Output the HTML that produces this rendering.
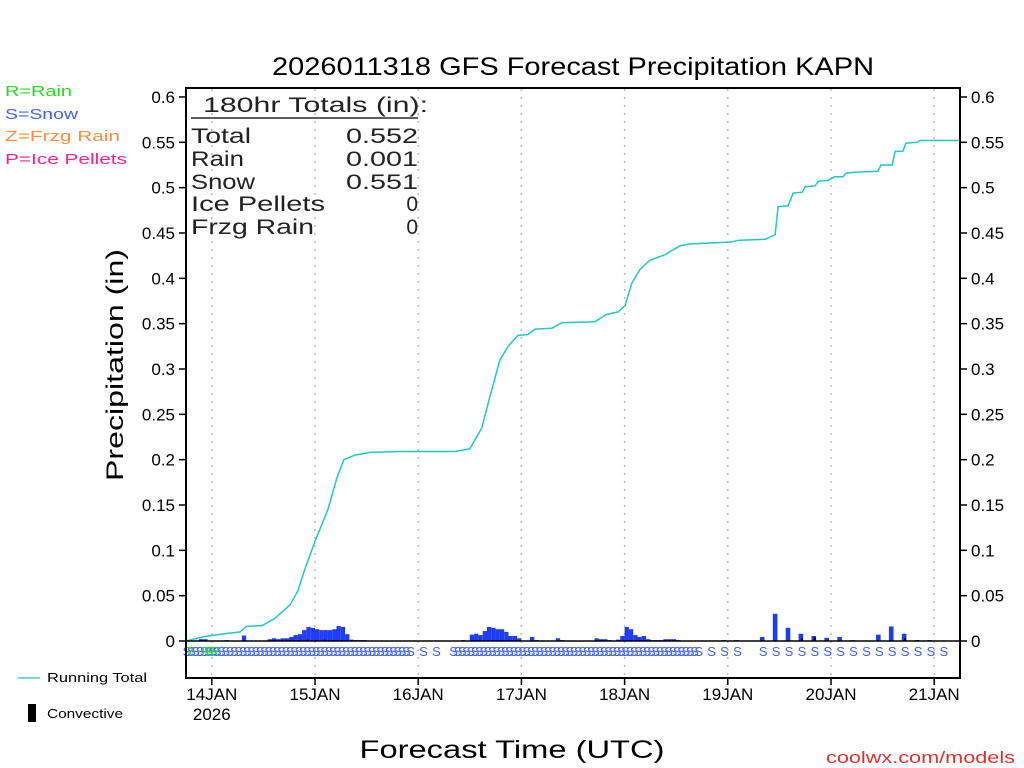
<!DOCTYPE html>
<html><head><meta charset="utf-8"><style>
html,body{margin:0;padding:0;background:#fff;}
svg{display:block;font-family:"Liberation Sans",sans-serif;}
</style></head><body>
<svg id="chart" width="1024" height="768" viewBox="0 0 1024 768">
<text x="573" y="75" font-size="25" text-anchor="middle" textLength="602" lengthAdjust="spacingAndGlyphs" fill="#000">2026011318 GFS Forecast Precipitation KAPN</text>
<g font-size="15">
<text x="5" y="96" fill="#22dd22" textLength="67" lengthAdjust="spacingAndGlyphs">R=Rain</text>
<text x="5" y="119" fill="#4060ff" textLength="73" lengthAdjust="spacingAndGlyphs">S=Snow</text>
<text x="5" y="141" fill="#ff8c40" textLength="115" lengthAdjust="spacingAndGlyphs">Z=Frzg Rain</text>
<text x="5" y="164" fill="#ff2090" textLength="122" lengthAdjust="spacingAndGlyphs">P=Ice Pellets</text>
</g>
<g id="grid"></g>
<g id="bars"></g>
<g id="marks"></g>
<path id="line" fill="none" stroke="#20c8c8" stroke-width="1.5"/>
<line x1="186" y1="641" x2="960" y2="641" stroke="#000" stroke-width="1.5"/>
<rect x="186" y="88" width="774" height="590" fill="none" stroke="#000" stroke-width="2"/>
<g id="axes"></g>
<g font-size="21" fill="#222">
<text x="203" y="112" textLength="225" lengthAdjust="spacingAndGlyphs">180hr Totals (in):</text>
<line x1="191" y1="118" x2="418" y2="118" stroke="#000" stroke-width="1.2"/>
<text x="191" y="143" textLength="60" lengthAdjust="spacingAndGlyphs">Total</text><text x="346" y="143" textLength="72" lengthAdjust="spacingAndGlyphs">0.552</text>
<text x="191" y="166" textLength="53" lengthAdjust="spacingAndGlyphs">Rain</text><text x="346" y="166" textLength="72" lengthAdjust="spacingAndGlyphs">0.001</text>
<text x="191" y="189" textLength="64" lengthAdjust="spacingAndGlyphs">Snow</text><text x="346" y="189" textLength="72" lengthAdjust="spacingAndGlyphs">0.551</text>
<text x="191" y="211" textLength="134" lengthAdjust="spacingAndGlyphs">Ice Pellets</text><text x="418" y="211" text-anchor="end">0</text>
<text x="191" y="234" textLength="123" lengthAdjust="spacingAndGlyphs">Frzg Rain</text><text x="418" y="234" text-anchor="end">0</text>
</g>
<text transform="translate(123,365) rotate(-90)" font-size="24" text-anchor="middle" textLength="232" lengthAdjust="spacingAndGlyphs">Precipitation (in)</text>
<text x="512" y="758" font-size="25" text-anchor="middle" textLength="305" lengthAdjust="spacingAndGlyphs">Forecast Time (UTC)</text>
<text x="1015" y="763" font-size="17" fill="#e03030" text-anchor="end" textLength="189" lengthAdjust="spacingAndGlyphs">coolwx.com/models</text>
<line x1="18" y1="678" x2="40" y2="678" stroke="#20c8c8" stroke-width="1.2"/>
<text x="47" y="682" font-size="13" textLength="100" lengthAdjust="spacingAndGlyphs">Running Total</text>
<rect x="28" y="704" width="8" height="18" fill="#000"/>
<text x="47" y="718" font-size="13" textLength="76" lengthAdjust="spacingAndGlyphs">Convective</text>
</svg>
<script>
const dayLabels=["14JAN","15JAN","16JAN","17JAN","18JAN","19JAN","20JAN","21JAN"];
const dayHours=[6,30,54,78,102,126,150,174];
const yTicks=[0,0.05,0.1,0.15,0.2,0.25,0.3,0.35,0.4,0.45,0.5,0.55,0.6];
const yTickLabels=["0","0.05","0.1","0.15","0.2","0.25","0.3","0.35","0.4","0.45","0.5","0.55","0.6"];
const totalHours=[0,4.4,9,12.6,14,17.7,20.7,24.2,26,27.7,30,33,35.1,36.7,39.3,42.8,49.8,62.6,66,68.8,70.7,73,74.9,77.2,79.5,81.2,85.1,87.4,95.1,97.7,100.5,102.1,103.7,105.6,107.9,111.4,114.9,117.2,126.5,128.8,134.7,137,137.7,140,141.2,143.3,144,146.3,147,149.3,150.9,152.8,153.5,155.6,160.9,161.6,164.2,164.9,166.7,167.4,170,170.7,180];
const totalValues=[0,0.005,0.008,0.01,0.016,0.017,0.025,0.04,0.055,0.08,0.11,0.145,0.18,0.2,0.205,0.208,0.209,0.209,0.212,0.235,0.27,0.31,0.325,0.337,0.338,0.344,0.345,0.351,0.352,0.36,0.363,0.37,0.395,0.41,0.42,0.426,0.436,0.438,0.44,0.442,0.443,0.448,0.479,0.48,0.494,0.495,0.501,0.502,0.507,0.508,0.512,0.512,0.516,0.517,0.518,0.525,0.525,0.54,0.54,0.549,0.55,0.552,0.552];
const hourlyHours=[0,3,4,9,13,19,20,21,22,23,24,25,26,27,28,29,30,31,32,33,34,35,36,37,38,39,40,41,64,66,67,68,69,70,71,72,73,74,75,76,77,80,81,86,87,95,96,97,98,100,101,102,103,104,105,106,107,108,109,110,111,112,113,114];
const hourlyValues=[0.001,0.002,0.002,0.001,0.006,0.002,0.003,0.002,0.003,0.003,0.0045,0.0065,0.0075,0.012,0.0155,0.0145,0.013,0.012,0.012,0.012,0.013,0.0165,0.0155,0.0075,0.0015,0.001,0.001,0.001,0.001,0.007,0.008,0.0065,0.011,0.0155,0.0145,0.013,0.013,0.01,0.0055,0.0055,0.003,0.0045,0.001,0.003,0.001,0.003,0.002,0.002,0.001,0.0015,0.0055,0.0155,0.013,0.0065,0.0045,0.0055,0.002,0.001,0.001,0.001,0.002,0.002,0.002,0.001];
const threeHours=[125,128,134,137,140,143,146,149,152,155,161,164,167,170,173,176];
const threeValues=[0.001,0.001,0.0045,0.03,0.0145,0.008,0.0055,0.0035,0.0045,0.001,0.007,0.016,0.008,0.001,0.001,0.0005];
const convHours=[24,26,28,30,32,34,36,143,146,167,170];
const convValues=[0.001,0.001,0.0015,0.001,0.0015,0.001,0.001,0.003,0.004,0.003,0.001];
const snowHours=[];
for(let h=0;h<=52;h++)snowHours.push(h);
[55,58].forEach(h=>snowHours.push(h));
for(let h=62;h<=119;h++)snowHours.push(h);
[122,125,128,134,137,140,143,146,149,152,155,158,161,164,167,170,173,176].forEach(h=>snowHours.push(h));
const rainHours=[0,4,5,6];

const NS="http://www.w3.org/2000/svg";
const X=h=>186+h*774/180;
const Y=v=>641-v*906.7;
function mk(tag,attrs,parent){const e=document.createElementNS(NS,tag);for(const k in attrs)e.setAttribute(k,attrs[k]);parent.appendChild(e);return e;}
const grid=document.getElementById('grid'),axes=document.getElementById('axes'),bars=document.getElementById('bars'),marks=document.getElementById('marks');
dayHours.forEach((h,i)=>{
  const g=mk('line',{x1:X(h),x2:X(h),y1:89,y2:677,stroke:'#bbb','stroke-width':1.5,'stroke-dasharray':'2,6'},grid);
  
  
  mk('line',{x1:X(h),x2:X(h),y1:678,y2:685,stroke:'#000','stroke-width':1.5},axes);
  const t=mk('text',{x:X(h),y:700,'font-size':17,'text-anchor':'middle'},axes);
  t.textContent=dayLabels[i];
  
  
});
const yr=mk('text',{x:X(6),y:720,'font-size':17,'text-anchor':'middle'},axes);yr.textContent='2026';


yTicks.forEach((v,i)=>{
  mk('line',{x1:179,x2:186,y1:Y(v),y2:Y(v),stroke:'#000','stroke-width':1.5},axes);
  mk('line',{x1:960,x2:967,y1:Y(v),y2:Y(v),stroke:'#000','stroke-width':1.5},axes);
  const a=mk('text',{x:175,y:Y(v)+6,'font-size':17,'text-anchor':'end'},axes);a.textContent=yTickLabels[i];
  
  
  const b=mk('text',{x:971,y:Y(v)+6,'font-size':17},axes);b.textContent=yTickLabels[i];
  
  
});
hourlyHours.forEach((h,i)=>{
  const r=mk('rect',{x:X(h),y:Y(hourlyValues[i]),width:4.3,height:641-Y(hourlyValues[i]),fill:'#1e3cff'},bars);
  
  
});
threeHours.forEach((h,i)=>{
  const r=mk('rect',{x:X(h)-2.3,y:Y(threeValues[i]),width:4.6,height:641-Y(threeValues[i]),fill:'#1e3cff'},bars);
  
  
});
convHours.forEach((h,i)=>{
  const r=mk('rect',{x:X(h),y:Y(convValues[i]),width:2,height:641-Y(convValues[i]),fill:'#000'},bars);
  
  
});
snowHours.forEach(h=>{
  const t=mk('text',{x:X(h)+1,y:656,'font-size':13,fill:'#4060ff','text-anchor':'middle'},marks);t.textContent='S';
  
  
});
rainHours.forEach(h=>{
  const t=mk('text',{x:X(h)+3,y:656,'font-size':13,fill:'#22dd22','text-anchor':'middle'},marks);t.textContent='R';
  
  
});
document.getElementById('line').setAttribute('d',totalHours.map((h,i)=>(i?'L':'M')+X(h).toFixed(1)+','+Y(totalValues[i]).toFixed(1)).join(''));
</script>
</body></html>
